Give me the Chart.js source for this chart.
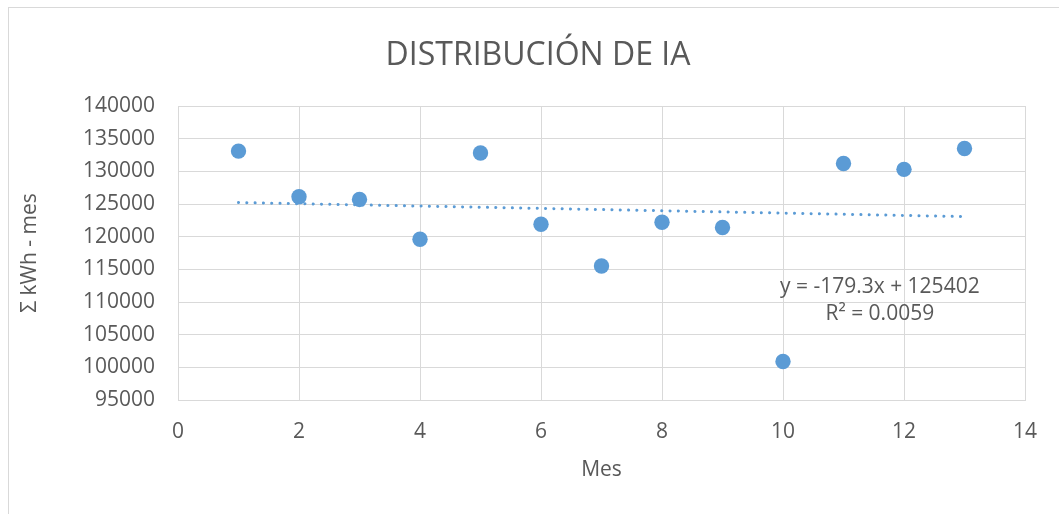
<!DOCTYPE html>
<html>
<head>
<meta charset="utf-8">
<script src="https://cdn.jsdelivr.net/npm/chart.js@4"></script>
<style>
  html, body { margin: 0; padding: 0; background: #ffffff; }
  #wrap { width: 1059px; height: 514px; position: relative; }
</style>
</head>
<body>
<div id="wrap"><canvas id="c" width="1059" height="514"></canvas></div>
<script>
// ---- data ----
const months = [1, 2, 3, 4, 5, 6, 7, 8, 9, 10, 11, 12, 13];
const kwhValues = [133100, 126100, 125700, 119600, 132800, 121900, 115500, 122200, 121400, 100900, 131200, 130300, 133500];
const trendX = [1, 13];
const trendY = [125223, 123071];
const xTicks = [0, 2, 4, 6, 8, 10, 12, 14];
const yTicks = [95000, 100000, 105000, 110000, 115000, 120000, 125000, 130000, 135000, 140000];
const titleText = 'DISTRIBUCIÓN DE IA';
const xTitle = 'Mes';
const yTitle = 'Σ kWh - mes';
const eqLines = ['y = -179.3x + 125402', 'R² = 0.0059'];

const FONT = "'Open Sans', 'Liberation Sans', sans-serif";
const TXT = '#595959';
const GRID = '#d9d9d9';
const BLUE = '#5B9BD5';

const framePlugin = {
  id: 'frame',
  beforeDraw(chart) {
    const ctx = chart.ctx;
    ctx.save();
    ctx.fillStyle = '#ffffff';
    ctx.fillRect(0, 0, chart.width, chart.height);
    ctx.strokeStyle = GRID;
    ctx.lineWidth = 1;
    ctx.strokeRect(8.5, 7.5, 1200, 700);
    ctx.fillStyle = TXT;
    ctx.font = '32px ' + FONT;
    ctx.textAlign = 'center';
    ctx.textBaseline = 'alphabetic';
    ctx.fillText(titleText, 538, 64.5);
    ctx.restore();
  },
  afterDraw(chart) {
    const ctx = chart.ctx;
    const xs = chart.scales.x, ys = chart.scales.y;
    ctx.save();
    ctx.fillStyle = TXT;
    ctx.font = '21px ' + FONT;
    ctx.textAlign = 'center';
    ctx.textBaseline = 'middle';
    const cx = xs.getPixelForValue(11.6);
    ctx.fillText(eqLines[0], cx, ys.getPixelForValue(112250));
    ctx.fillText(eqLines[1], cx, ys.getPixelForValue(108150));
    ctx.restore();
  }
};

const ticksFromList = (list) => (scale) => { scale.ticks = list.map(v => ({ value: v })); };

new Chart(document.getElementById('c'), {
  type: 'scatter',
  data: {
    datasets: [
      {
        label: 'IA',
        data: months.map((m, i) => ({ x: m, y: kwhValues[i] })),
        backgroundColor: BLUE,
        borderWidth: 0,
        pointRadius: 7.7,
        pointHoverRadius: 7.7,
        order: 1
      },
      {
        label: 'Tendencia',
        data: trendX.map((x, i) => ({ x: x, y: trendY[i] })),
        showLine: true,
        pointRadius: 0,
        borderColor: BLUE,
        borderWidth: 3,
        borderDash: [0.1, 8.2],
        borderCapStyle: 'round',
        fill: false,
        order: 0
      }
    ]
  },
  options: {
    responsive: false,
    animation: false,
    events: [],
    layout: { padding: { left: 0, right: 34, top: 106, bottom: 0 } },
    plugins: {
      legend: { display: false },
      tooltip: { enabled: false },
      title: { display: false }
    },
    scales: {
      x: {
        type: 'linear',
        min: 0, max: 14,
        afterBuildTicks: ticksFromList(xTicks),
        afterFit: (s) => { s.height = 114; },
        grid: { color: GRID, lineWidth: 1, drawTicks: false },
        border: { color: GRID, width: 1 },
        ticks: { color: TXT, font: { family: FONT, size: 21 }, padding: 19, maxRotation: 0 },
        title: { display: true, text: xTitle, color: TXT, font: { family: FONT, size: 21 }, padding: { top: 0, bottom: 31 } }
      },
      y: {
        type: 'linear',
        min: 95000, max: 140000,
        afterBuildTicks: ticksFromList(yTicks),
        afterFit: (s) => { s.width = 178; },
        grid: { color: GRID, lineWidth: 1, drawTicks: false },
        border: { color: GRID, width: 1 },
        ticks: { color: TXT, font: { family: FONT, size: 21 }, padding: 23, callback: (v) => String(v) },
        title: { display: true, text: yTitle, color: TXT, font: { family: FONT, size: 21 }, padding: { top: 17, bottom: 0 } }
      }
    }
  },
  plugins: [framePlugin]
});
</script>
</body>
</html>
